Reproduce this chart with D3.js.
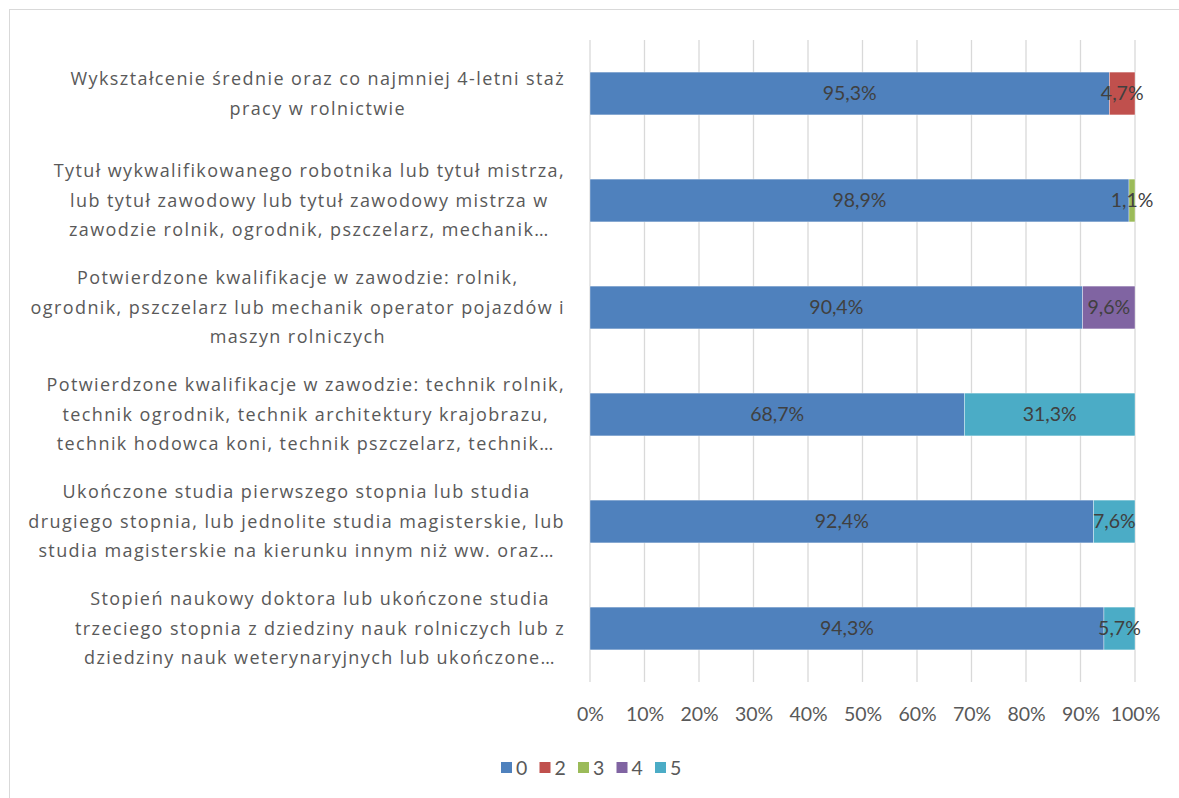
<!DOCTYPE html>
<html>
<head>
<meta charset="utf-8">
<script src="https://cdn.jsdelivr.net/npm/d3@7"></script>
<style>
  body { margin: 0; background: #fff; }
</style>
</head>
<body>
<svg id="chart" width="1179" height="798"></svg>
<script>
// categories, top to bottom (each is the wrapped label lines)
var categories = [
  ["Wykształcenie średnie oraz co najmniej 4-letni staż", "pracy w rolnictwie"],
  ["Tytuł wykwalifikowanego robotnika lub tytuł mistrza,", "lub tytuł zawodowy lub tytuł zawodowy mistrza w", "zawodzie rolnik, ogrodnik, pszczelarz, mechanik…"],
  ["Potwierdzone kwalifikacje w zawodzie: rolnik,", "ogrodnik, pszczelarz lub mechanik operator pojazdów i", "maszyn rolniczych"],
  ["Potwierdzone kwalifikacje w zawodzie: technik rolnik,", "technik ogrodnik, technik architektury krajobrazu,", "technik hodowca koni, technik pszczelarz, technik…"],
  ["Ukończone studia pierwszego stopnia lub studia", "drugiego stopnia, lub jednolite studia magisterskie, lub", "studia magisterskie na kierunku innym niż ww. oraz…"],
  ["Stopień naukowy doktora lub ukończone studia", "trzeciego stopnia z dziedziny nauk rolniczych lub z", "dziedziny nauk weterynaryjnych lub ukończone…"]
];
var seriesNames = ["0", "2", "3", "4", "5"];
var s0 = [95.3, 98.9, 90.4, 68.7, 92.4, 94.3];
var s2 = [4.7, 0, 0, 0, 0, 0];
var s3 = [0, 1.1, 0, 0, 0, 0];
var s4 = [0, 0, 9.6, 0, 0, 0];
var s5 = [0, 0, 0, 31.3, 7.6, 5.7];
var colors = ["#4f81bd", "#c0504d", "#9bbb59", "#8064a2", "#4bacc6"];
var xTicks = [0, 10, 20, 30, 40, 50, 60, 70, 80, 90, 100];

(function () {
  var svg = d3.select("#chart");
  var plotLeft = 590, plotRight = 1135, plotTop = 40, plotBottom = 682;
  var numFont = "Lato, 'Open Sans', sans-serif";
  var labFont = "'Open Sans', Lato, sans-serif";
  var fs = "19.5px";

  // chart frame
  svg.append("rect")
      .attr("x", 9.5).attr("y", 9.5)
      .attr("width", 1200).attr("height", 820)
      .attr("fill", "none").attr("stroke", "#d9d9d9");

  var rows = categories.map(function (c, i) {
    return { idx: i, "0": s0[i], "2": s2[i], "3": s3[i], "4": s4[i], "5": s5[i] };
  });
  var layers = d3.stack().keys(seriesNames)(rows);

  var x = d3.scaleLinear().domain([0, 100]).range([plotLeft, plotRight]);
  var y = d3.scaleBand().domain(d3.range(categories.length))
      .range([plotTop, plotBottom]).paddingInner(0.6).paddingOuter(0.3);

  // gridlines
  svg.append("g").selectAll("line")
    .data(xTicks)
    .enter().append("line")
      .attr("x1", function (d) { return x(d); })
      .attr("x2", function (d) { return x(d); })
      .attr("y1", plotTop).attr("y2", plotBottom)
      .attr("stroke", "#d9d9d9").attr("stroke-width", 1.3);

  // x tick labels
  var xAxis = d3.axisBottom(x)
      .tickValues(xTicks)
      .tickFormat(function (d) { return d + "%"; })
      .tickSize(0).tickPadding(0);
  var gx = svg.append("g").attr("transform", "translate(0," + (plotBottom + 25) + ")").call(xAxis);
  gx.select(".domain").remove();
  gx.selectAll("text")
      .style("font-family", numFont)
      .style("font-size", fs).attr("fill", "#595959");

  // bars
  var g = svg.append("g");
  layers.forEach(function (layer, k) {
    g.selectAll(".s" + k)
      .data(layer.filter(function (d) { return d[1] - d[0] > 0; }))
      .enter().append("rect")
        .attr("x", function (d) { return x(d[0]); })
        .attr("width", function (d) { return x(d[1]) - x(d[0]); })
        .attr("y", function (d) { return y(d.data.idx); })
        .attr("height", y.bandwidth())
        .attr("fill", colors[k])
        .attr("stroke", "#ffffff").attr("stroke-width", 0.6).attr("stroke-opacity", 0.6);
  });

  // data labels
  layers.forEach(function (layer, k) {
    g.selectAll(".l" + k)
      .data(layer.filter(function (d) { return d[1] - d[0] > 0; }))
      .enter().append("text")
        .attr("x", function (d) { return (x(d[0]) + x(d[1])) / 2; })
        .attr("y", function (d) { return y(d.data.idx) + y.bandwidth() / 2; })
        .attr("dy", "0.35em")
        .attr("text-anchor", "middle")
        .style("font-family", numFont)
        .style("font-size", fs)
        .attr("fill", "#404040")
        .text(function (d) { return (d[1] - d[0]).toFixed(1).replace(".", ",") + "%"; });
  });

  // category labels: lines centered, block right-aligned at 565
  var labelRight = 565, lineH = 29.5;
  categories.forEach(function (lines, i) {
    var cy = y(i) + y.bandwidth() / 2;
    var t = svg.append("text")
        .style("font-family", labFont)
        .style("font-size", "18px")
        .style("letter-spacing", "1.4px")
        .attr("fill", "#595959")
        .attr("text-anchor", "middle");
    var spans = lines.map(function (ln, j) {
      return t.append("tspan")
          .attr("y", cy + (j - (lines.length - 1) / 2) * lineH)
          .attr("dy", "0.35em")
          .text(ln);
    });
    var maxW = d3.max(spans, function (s) { return s.node().getComputedTextLength(); });
    spans.forEach(function (s) { s.attr("x", labelRight - maxW / 2); });
  });

  // legend
  var legend = svg.append("g").attr("transform", "translate(501,768)");
  var items = legend.selectAll("g")
    .data(seriesNames)
    .enter().append("g")
      .attr("transform", function (d, i) { return "translate(" + (i * 38.5) + ",0)"; });
  items.append("rect")
      .attr("x", 0).attr("y", -6).attr("width", 11).attr("height", 11)
      .attr("fill", function (d, i) { return colors[i]; });
  items.append("text")
      .attr("x", 15).attr("y", 0).attr("dy", "0.35em")
      .style("font-family", numFont)
      .style("font-size", fs).attr("fill", "#595959")
      .text(function (d) { return d; });
}());
</script>
</body>
</html>
